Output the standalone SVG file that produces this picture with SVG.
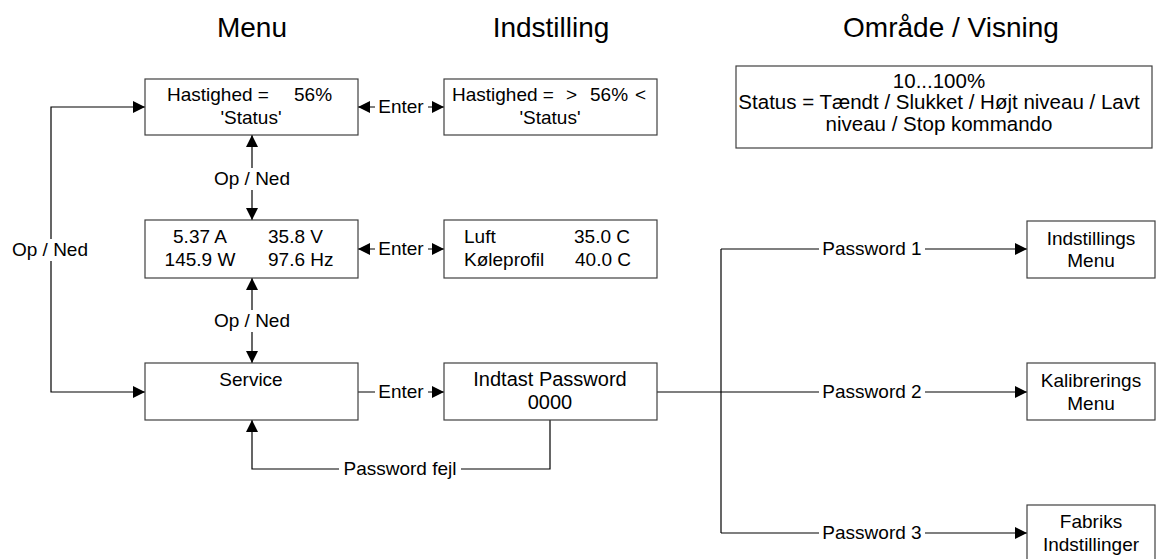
<svg xmlns="http://www.w3.org/2000/svg" width="1156" height="559" viewBox="0 0 1156 559">
  <defs>
    <style>
      text { font-family: "Liberation Sans", Arial, sans-serif; font-size: 19px; fill: #000; }
      .title { font-size: 28px; text-anchor: middle; }
      .c { text-anchor: middle; }
      .big { font-size: 20.5px; }
      .box { fill: #fff; stroke: #404040; stroke-width: 1.2; }
      .wire { fill: none; stroke: #000; stroke-width: 1.2; }
      .bg { fill: #fff; }
    </style>
    <marker id="arrow" viewBox="0 0 12 12" markerWidth="12" markerHeight="12" refX="12" refY="6" orient="auto-start-reverse" markerUnits="userSpaceOnUse">
      <path d="M0,0 L12,6 L0,12 z" fill="#000"/>
    </marker>
  </defs>

  <!-- column headings -->
  <g id="headings">
    <text class="title" x="252" y="37">Menu</text>
    <text class="title" x="551" y="37">Indstilling</text>
    <text class="title" x="951" y="37">Område / Visning</text>
  </g>

  <!-- connectors -->
  <g id="connectors">
    <path class="wire" d="M358,107 H444" marker-start="url(#arrow)" marker-end="url(#arrow)"/>
    <path class="wire" d="M358,249 H444" marker-start="url(#arrow)" marker-end="url(#arrow)"/>
    <path class="wire" d="M358,392 H444" marker-end="url(#arrow)"/>
    <path class="wire" d="M252,135 V220" marker-start="url(#arrow)" marker-end="url(#arrow)"/>
    <path class="wire" d="M252,278 V363" marker-start="url(#arrow)" marker-end="url(#arrow)"/>
    <path class="wire" d="M145,107 H51 V392 H145" marker-start="url(#arrow)" marker-end="url(#arrow)"/>
    <path class="wire" d="M550,420 V469 H252 V420" marker-end="url(#arrow)"/>
    <path class="wire" d="M657,392 H1027" marker-end="url(#arrow)"/>
    <path class="wire" d="M721,249 V533"/>
    <path class="wire" d="M721,249 H1027" marker-end="url(#arrow)"/>
    <path class="wire" d="M721,533 H1027" marker-end="url(#arrow)"/>

    <!-- label backgrounds break the lines behind the labels -->
    <rect class="bg" x="375" y="97" width="53" height="20"/>
    <rect class="bg" x="375" y="239" width="53" height="20"/>
    <rect class="bg" x="375" y="382" width="53" height="20"/>
    <rect class="bg" x="212" y="168" width="80" height="22"/>
    <rect class="bg" x="212" y="310" width="80" height="22"/>
    <rect class="bg" x="10" y="239" width="80" height="22"/>
    <rect class="bg" x="339" y="459" width="122" height="20"/>
    <rect class="bg" x="819" y="239" width="106" height="20"/>
    <rect class="bg" x="819" y="382" width="106" height="20"/>
    <rect class="bg" x="819" y="523" width="106" height="20"/>

    <text class="c" x="401" y="113">Enter</text>
    <text class="c" x="401" y="255">Enter</text>
    <text class="c" x="401" y="398">Enter</text>
    <text class="c" x="252" y="185">Op / Ned</text>
    <text class="c" x="252" y="327">Op / Ned</text>
    <text class="c" x="50" y="256">Op / Ned</text>
    <text class="c" x="400" y="475">Password fejl</text>
    <text class="c" x="872" y="255">Password 1</text>
    <text class="c" x="872" y="398">Password 2</text>
    <text class="c" x="872" y="539">Password 3</text>
  </g>

  <!-- menu column -->
  <g id="menu-speed">
    <rect class="box" x="145" y="79" width="213" height="56"/>
    <text x="167" y="101">Hastighed =</text>
    <text x="294" y="101">56%</text>
    <text class="c" x="251" y="124">'Status'</text>
  </g>
  <g id="menu-readings">
    <rect class="box" x="145" y="220" width="213" height="58"/>
    <text class="c" x="200" y="243">5.37 A</text>
    <text x="268" y="243">35.8 V</text>
    <text class="c" x="200" y="266">145.9 W</text>
    <text x="268" y="266">97.6 Hz</text>
  </g>
  <g id="menu-service">
    <rect class="box" x="145" y="363" width="213" height="57"/>
    <text class="c" x="251" y="386">Service</text>
  </g>

  <!-- settings column -->
  <g id="set-speed">
    <rect class="box" x="444" y="79" width="213" height="56"/>
    <text x="452" y="101">Hastighed =</text>
    <text x="566" y="101">&gt;</text>
    <text x="590" y="101">56%</text>
    <text x="635" y="101">&lt;</text>
    <text class="c" x="550" y="124">'Status'</text>
  </g>
  <g id="set-temps">
    <rect class="box" x="444" y="220" width="213" height="58"/>
    <text x="464" y="243">Luft</text>
    <text x="574" y="243">35.0 C</text>
    <text x="464" y="266">Køleprofil</text>
    <text x="575" y="266">40.0 C</text>
  </g>
  <g id="set-password">
    <rect class="box" x="444" y="363" width="213" height="57"/>
    <text class="c" x="550" y="386" style="font-size:20px">Indtast Password</text>
    <text class="c" x="550" y="409" style="font-size:20px">0000</text>
  </g>

  <!-- range / display column -->
  <g id="range-info">
    <rect class="box" x="736" y="66" width="416" height="82"/>
    <text class="c big" x="939" y="88">10...100%</text>
    <text class="c big" x="939" y="109">Status = Tændt / Slukket / Højt niveau / Lavt</text>
    <text class="c big" x="939" y="131">niveau / Stop kommando</text>
  </g>
  <g id="settings-menu">
    <rect class="box" x="1027" y="221" width="128" height="57"/>
    <text class="c" x="1091" y="245">Indstillings</text>
    <text class="c" x="1091" y="267">Menu</text>
  </g>
  <g id="calibration-menu">
    <rect class="box" x="1027" y="363" width="128" height="57"/>
    <text class="c" x="1091" y="387">Kalibrerings</text>
    <text class="c" x="1091" y="410">Menu</text>
  </g>
  <g id="factory-settings">
    <rect class="box" x="1027" y="505" width="128" height="57"/>
    <text class="c" x="1091" y="528">Fabriks</text>
    <text class="c" x="1091" y="551">Indstillinger</text>
  </g>
</svg>
